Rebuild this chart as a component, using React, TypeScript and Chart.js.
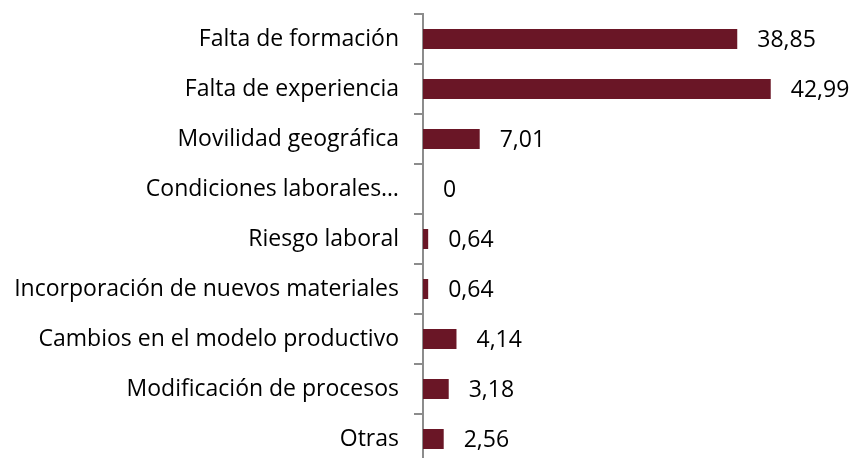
import React, { useEffect, useRef } from "react";
import { Chart, registerables } from "chart.js";

Chart.register(...registerables);

const categories = [
  "Falta de formación",
  "Falta de experiencia",
  "Movilidad geográfica",
  "Condiciones laborales…",
  "Riesgo laboral",
  "Incorporación de nuevos materiales",
  "Cambios en el modelo productivo",
  "Modificación de procesos",
  "Otras",
];
const values = [38.85, 42.99, 7.01, 0, 0.64, 0.64, 4.14, 3.18, 2.56];
const valueLabels = ["38,85", "42,99", "7,01", "0", "0,64", "0,64", "4,14", "3,18", "2,56"];

const FONT = "'Open Sans', sans-serif";

const labelPlugin = {
  id: "valueLabels",
  afterDatasetsDraw(chart: any) {
    const ctx = chart.ctx;
    const meta = chart.getDatasetMeta(0);
    ctx.save();
    ctx.fillStyle = "#000";
    ctx.font = `23px ${FONT}`;
    ctx.textAlign = "left";
    ctx.textBaseline = "middle";
    meta.data.forEach((bar: any, i: number) => {
      ctx.fillText(valueLabels[i], bar.x + 20, bar.y + 1);
    });
    ctx.restore();
  },
};

export default function App() {
  const ref = useRef<HTMLCanvasElement>(null);
  useEffect(() => {
    const chart = new Chart(ref.current!, {
      type: "bar",
      data: {
        labels: categories,
        datasets: [
          {
            data: values,
            backgroundColor: "#6A1626",
            barPercentage: 0.4,
            categoryPercentage: 1,
          },
        ],
      },
      options: {
        indexAxis: "y",
        responsive: false,
        animation: false,
        layout: { padding: { top: 0, bottom: 0, left: 0, right: 66 } },
        plugins: { legend: { display: false }, tooltip: { enabled: false } },
        scales: {
          x: { display: false, min: 0, max: 45 },
          y: {
            afterFit: (scale: any) => {
              scale.width = 423;
              scale.paddingTop = 14;
              scale.paddingBottom = 0;
            },
            grid: {
              drawOnChartArea: false,
              drawTicks: true,
              tickLength: 9,
              offset: true,
              color: "#8c8c8c",
              lineWidth: 2,
            },
            border: { color: "#8c8c8c", width: 2 },
            ticks: {
              color: "#000",
              padding: 15,
              font: { family: FONT, size: 23 },
            },
          },
        },
      },
      plugins: [labelPlugin],
    });
    return () => chart.destroy();
  }, []);
  return (
    <div
      style={{
        position: "fixed",
        top: 0,
        left: 0,
        width: 853,
        height: 458,
        overflow: "hidden",
        background: "#fff",
      }}
    >
      <canvas ref={ref} width={853} height={464} style={{ display: "block" }} />
    </div>
  );
}
